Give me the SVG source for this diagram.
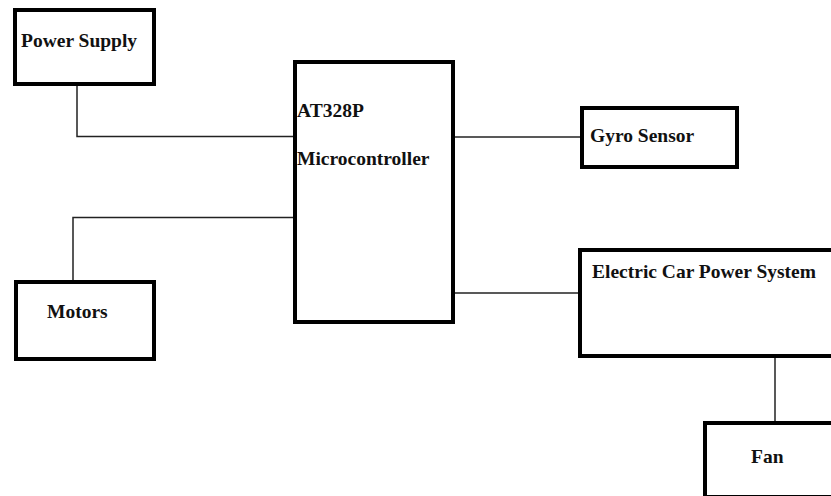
<svg xmlns="http://www.w3.org/2000/svg" width="831" height="496" viewBox="0 0 831 496">
<style>
.box{fill:#fff;stroke:#000;stroke-width:4}
.lbl{font-family:"Liberation Serif","Times New Roman",serif;font-weight:bold;font-size:19.5px;fill:#111}
.wire{fill:none;stroke:#222;stroke-width:1.5}
</style>
<rect width="831" height="496" fill="#fff"/>
<g id="connectors">
<polyline class="wire" points="77,86 77,136.5 293,136.5"/>
<polyline class="wire" points="73,280 73,217.5 293,217.5"/>
<line class="wire" x1="455" y1="137" x2="580" y2="137"/>
<line class="wire" x1="455" y1="293" x2="578" y2="293"/>
<line class="wire" x1="775" y1="358" x2="775" y2="421"/>
</g>
<g id="power-supply">
<rect class="box" x="15" y="10" width="139" height="74"/>
<text class="lbl" x="21" y="47">Power Supply</text>
</g>
<g id="microcontroller">
<rect class="box" x="295" y="62" width="158" height="260"/>
<text class="lbl" x="297" y="117">AT328P</text>
<text class="lbl" x="297" y="165">Microcontroller</text>
</g>
<g id="gyro-sensor">
<rect class="box" x="582" y="108" width="155" height="59"/>
<text class="lbl" x="590" y="142">Gyro Sensor</text>
</g>
<g id="motors">
<rect class="box" x="16" y="282" width="138" height="77"/>
<text class="lbl" x="47" y="318">Motors</text>
</g>
<g id="electric-car-power-system">
<rect class="box" x="580" y="250" width="260" height="106"/>
<text class="lbl" x="592" y="278">Electric Car Power System</text>
</g>
<g id="fan">
<rect class="box" x="705" y="423" width="140" height="74"/>
<text class="lbl" x="751" y="463">Fan</text>
</g>
</svg>
